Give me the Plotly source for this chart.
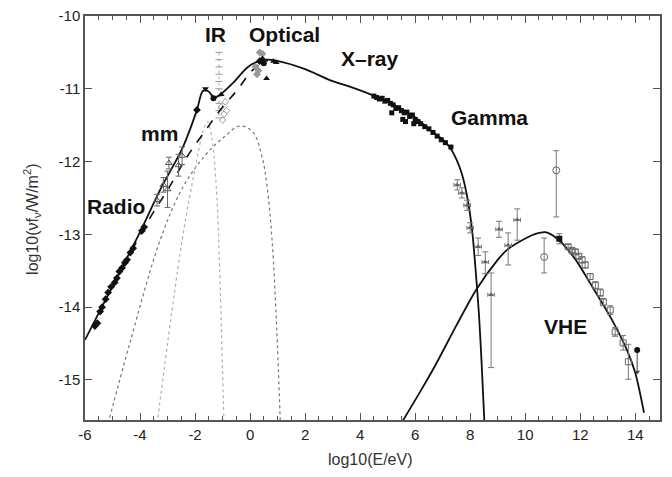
import plotly.graph_objects as go

# ---------------- data ----------------
# synchrotron total model (solid)
sync_x = [-6.0, -5.0, -4.0, -3.27, -2.44, -1.93, -1.72, -1.53, -1.3, -1.05, -0.62, -0.11, 0.25, 0.6, 0.9,
          2.0, 2.9, 3.7, 4.47, 5.0, 5.56, 6.1, 6.55, 7.0, 7.27, 7.5, 7.7, 7.9, 8.07, 8.2, 8.32, 8.42, 8.52]
sync_y = [-14.45, -13.71, -12.97, -12.39, -11.8, -11.29, -11.03, -11.03, -11.12, -11.07, -10.92, -10.71, -10.63, -10.6, -10.61,
          -10.73, -10.88, -10.98, -11.09, -11.18, -11.29, -11.42, -11.57, -11.7, -11.81, -11.97, -12.17, -12.5, -12.94, -13.5, -14.1, -14.8, -15.6]
# synchrotron without IR component (dashed)
dash_x = [-4.3, -3.6, -3.0, -2.3, -1.56, -1.0, -0.47, 0.0, 0.36, 0.65]
dash_y = [-13.22, -12.75, -12.39, -11.94, -11.54, -11.25, -11.02, -10.78, -10.66, -10.61]
# broad dotted component
broad_x = [-5.16, -4.36, -3.27, -2.44, -1.6, -1.0, -0.36, 0.11, 0.44, 0.62, 0.8, 0.97, 1.1]
broad_y = [-15.6, -14.48, -13.08, -12.35, -11.9, -11.68, -11.51, -11.6, -11.94, -12.35, -13.08, -14.3, -15.6]
# narrow gray dotted (IR) component
ir_x = [-3.38, -2.47, -2.0, -1.72, -1.55, -1.38, -1.22, -1.14, -0.95]
ir_y = [-15.6, -13.08, -12.1, -11.6, -11.45, -11.7, -12.4, -13.08, -15.6]
# inverse Compton model (solid)
ic_x = [5.49, 6.2, 6.76, 7.5, 8.22, 9.0, 9.35, 10.04, 10.4, 10.73, 11.2, 11.8, 12.36, 13.09, 13.7, 14.0, 14.32]
ic_y = [-15.6, -15.15, -14.78, -14.25, -13.76, -13.35, -13.21, -13.05, -12.99, -12.97, -13.07, -13.33, -13.67, -14.13, -14.59, -14.9, -15.45]

# radio points
radio_x = [-5.64, -5.55, -5.45, -5.38, -5.25, -5.16, -5.05, -4.92, -4.84, -4.75, -4.65, -4.55, -4.47, -4.35, -4.25, -3.93, -3.85]
radio_y = [-14.26, -14.22, -14.06, -14.0, -13.89, -13.8, -13.72, -13.66, -13.6, -13.51, -13.46, -13.39, -13.35, -13.25, -13.19, -12.95, -12.9]
# mm points
mm_x = [-3.38, -3.15, -3.0, -2.95, -2.6, -2.47]
mm_y = [-12.53, -12.32, -12.38, -12.02, -12.05, -11.92]
mm_err = [0.08, 0.1, 0.25, 0.08, 0.15, 0.12]
# IR points (black)
irp_x = [-1.93, -1.62, -1.33, -1.05]
irp_y = [-11.29, -11.0, -11.13, -11.08]
irp_sym = ["diamond", "triangle-down", "circle", "triangle-up"]
# IR band and ISO points (gray)
band_x = [-1.13, -1.13, -1.13, -1.13, -1.13, -1.13, -1.13, -1.13, -1.13, -1.13]
band_y = [-10.5, -10.6, -10.7, -10.8, -10.9, -11.0, -11.1, -11.2, -11.3, -11.4]
iso_x = [-1.05, -0.95, -0.85, -1.0, -0.9]
iso_y = [-11.25, -11.35, -11.3, -11.43, -11.18]
# optical points
opt_x = [0.35, 0.45, 0.5, 0.85, 0.95, 0.6]
opt_y = [-10.62, -10.6, -10.65, -10.62, -10.64, -10.86]
opt_sym = ["diamond", "diamond", "circle", "triangle-up", "triangle-up", "triangle-up"]
optg_x = [0.35, 0.45, 0.3, 0.25, 0.2]
optg_y = [-10.5, -10.52, -10.75, -10.8, -10.7]
# X-ray points
xr_x = [4.5, 4.6, 4.7, 4.8, 4.9, 5.0, 5.1, 5.2, 5.3, 5.4, 5.5, 5.6, 5.7, 5.8, 5.9, 6.0, 6.1, 6.2, 6.35, 6.5, 6.65, 6.8, 6.95, 7.1, 7.3, 5.15, 5.55, 5.65, 5.95]
xr_y = [-11.1, -11.12, -11.14, -11.13, -11.17, -11.16, -11.2, -11.22, -11.27, -11.26, -11.3, -11.33, -11.32, -11.38, -11.36, -11.42, -11.45, -11.48, -11.52, -11.55, -11.6, -11.65, -11.7, -11.74, -11.8, -11.33, -11.42, -11.45, -11.48]
# gamma (EGRET) points
gam_x = [7.53, 7.7, 7.89, 8.0, 8.29, 8.55, 8.76, 9.05, 9.38, 9.71]
gam_y = [-12.32, -12.43, -12.6, -12.91, -13.17, -13.38, -13.83, -12.93, -13.15, -12.8]
gam_ep = [0.07, 0.07, 0.07, 0.07, 0.12, 0.14, 0.3, 0.11, 0.17, 0.15]
gam_em = [0.07, 0.07, 0.07, 0.07, 0.12, 0.16, 1.0, 0.11, 0.27, 0.28]
# open circles
oc_x = [10.69, 11.13]
oc_y = [-13.31, -12.12]
oc_ep = [0.26, 0.27]
oc_em = [0.22, 0.64]
# VHE points
vf_x = [11.24]
vf_y = [-13.06]
vhe_x = [11.56, 11.7, 11.82, 11.95, 12.07, 12.18, 12.36, 12.55, 12.73, 12.84, 13.09, 13.27, 13.56, 13.75]
vhe_y = [-13.17, -13.22, -13.24, -13.3, -13.35, -13.42, -13.58, -13.7, -13.8, -13.93, -14.04, -14.34, -14.49, -14.75]
vhe_err = [0.03, 0.03, 0.03, 0.03, 0.04, 0.04, 0.04, 0.05, 0.05, 0.05, 0.06, 0.06, 0.1, 0.24]
ul_x = [14.07]
ul_y = [-14.59]
ul_len = [0.3]

labels = ["Radio", "mm", "IR", "Optical", "X\u2013ray", "Gamma", "VHE"]
label_x = [-4.87, -3.31, -1.24, 1.24, 4.36, 8.69, 11.45]
label_y = [-12.62, -11.61, -10.26, -10.25, -10.59, -11.39, -14.27]

x_ticks = [-6, -4, -2, 0, 2, 4, 6, 8, 10, 12, 14]
y_ticks = [-10, -11, -12, -13, -14, -15]

# ---------------- figure ----------------
fig = go.Figure()
BLACK = "#111111"

fig.add_trace(go.Scatter(x=broad_x, y=broad_y, mode="lines", line=dict(color="#777777", width=1.2, dash="dot", shape="spline")))
fig.add_trace(go.Scatter(x=ir_x, y=ir_y, mode="lines", line=dict(color="#b0b0b0", width=1.2, dash="dot", shape="spline")))
fig.add_trace(go.Scatter(x=band_x, y=band_y, mode="lines+markers", line=dict(color="#aaaaaa", width=1, dash="dot"),
                         marker=dict(symbol="line-ew-open", size=5, color="#999999", line=dict(width=1, color="#999999"))))
fig.add_trace(go.Scatter(x=iso_x, y=iso_y, mode="markers", marker=dict(symbol="diamond-open", size=5, color="#999999")))
fig.add_trace(go.Scatter(x=dash_x, y=dash_y, mode="lines", line=dict(color=BLACK, width=1.6, dash="dash", shape="spline")))
fig.add_trace(go.Scatter(x=sync_x, y=sync_y, mode="lines", line=dict(color=BLACK, width=1.8, shape="spline", smoothing=0.8)))
fig.add_trace(go.Scatter(x=ic_x, y=ic_y, mode="lines", line=dict(color=BLACK, width=1.8, shape="spline", smoothing=0.8)))

fig.add_trace(go.Scatter(x=radio_x, y=radio_y, mode="markers", marker=dict(symbol="diamond", size=6, color=BLACK)))
fig.add_trace(go.Scatter(x=mm_x, y=mm_y, mode="markers", marker=dict(symbol="triangle-up-open", size=6, color="#555555"),
                         error_y=dict(type="data", array=mm_err, color="#666666", thickness=1, width=3)))
fig.add_trace(go.Scatter(x=irp_x, y=irp_y, mode="markers", marker=dict(symbol=irp_sym, size=6, color=BLACK)))
fig.add_trace(go.Scatter(x=optg_x, y=optg_y, mode="markers", marker=dict(symbol="diamond", size=6, color="#999999")))
fig.add_trace(go.Scatter(x=opt_x, y=opt_y, mode="markers", marker=dict(symbol=opt_sym, size=6, color=BLACK)))
fig.add_trace(go.Scatter(x=xr_x, y=xr_y, mode="markers", marker=dict(symbol="square", size=5, color=BLACK)))
fig.add_trace(go.Scatter(x=gam_x, y=gam_y, mode="markers", marker=dict(symbol="triangle-up", size=5, color="#666666"),
                         error_x=dict(type="constant", value=0.12, color="#777777", thickness=1, width=2),
                         error_y=dict(type="data", array=gam_ep, arrayminus=gam_em, color="#777777", thickness=1, width=3)))
fig.add_trace(go.Scatter(x=oc_x, y=oc_y, mode="markers", marker=dict(symbol="circle-open", size=7, color="#666666"),
                         error_y=dict(type="data", array=oc_ep, arrayminus=oc_em, color="#777777", thickness=1, width=3)))
fig.add_trace(go.Scatter(x=vhe_x, y=vhe_y, mode="markers", marker=dict(symbol="square-open", size=6, color="#666666"),
                         error_y=dict(type="data", array=vhe_err, color="#777777", thickness=1, width=3)))
fig.add_trace(go.Scatter(x=vf_x, y=vf_y, mode="markers", marker=dict(symbol="square", size=6, color=BLACK),
                         error_y=dict(type="constant", value=0.07, color="#777777", thickness=1, width=3)))
# upper limit: point with a downward arrow
fig.add_trace(go.Scatter(x=ul_x, y=ul_y, mode="markers", marker=dict(symbol="circle", size=6, color=BLACK),
                         error_y=dict(type="data", array=[0] * len(ul_x), arrayminus=ul_len, color="#444444", thickness=1, width=0)))
fig.add_trace(go.Scatter(x=ul_x, y=[u - l for u, l in zip(ul_y, ul_len)], mode="markers",
                         marker=dict(symbol="triangle-down", size=5, color="#444444")))

for t, lx, ly in zip(labels, label_x, label_y):
    fig.add_annotation(x=lx, y=ly, xref="x", yref="y", text="<b>" + t + "</b>", showarrow=False,
                       font=dict(family="Liberation Sans, Arial", size=21, color=BLACK))

fig.add_annotation(xref="paper", yref="paper", x=-0.115, y=0.4975, textangle=-90, showarrow=False,
                   text="log10(\u03bdf<sub>\u03bd</sub>/W/m<sup>2</sup>)",
                   font=dict(family="Liberation Sans, Arial", size=16, color="#333333"))
fig.add_annotation(xref="paper", yref="paper", x=0.496, y=-0.072, yanchor="top", showarrow=False,
                   text="log10(E/eV)", font=dict(family="Liberation Sans, Arial", size=16, color="#333333"))

fig.update_xaxes(range=[-6, 14.9], tickvals=x_ticks, ticktext=[str(v) for v in x_ticks], automargin=False,
                 ticks="inside", ticklen=7, tickcolor="#555555", showgrid=False, zeroline=False,
                 showline=True, linecolor="#555555", linewidth=1.5, mirror="allticks",
                 ticklabeloverflow="allow",
                 minor=dict(dtick=0.5, tick0=0, ticks="inside", ticklen=4, tickcolor="#555555"),
                 tickfont=dict(family="Liberation Sans, Arial", size=15, color="#222222"))
fig.update_yaxes(range=[-15.55, -10], tickvals=y_ticks, ticktext=[str(v) for v in y_ticks], automargin=False,
                 ticks="inside", ticklen=7, tickcolor="#555555", showgrid=False, zeroline=False,
                 showline=True, linecolor="#555555", linewidth=1.5, mirror="allticks",
                 ticklabeloverflow="allow",
                 tickfont=dict(family="Liberation Sans, Arial", size=15, color="#222222"))

# the page body adds an 8px offset; size and margins compensate so the plot area sits at x 85-660, y 16-420
fig.update_layout(width=664, height=469, margin=dict(l=77, r=12, t=8, b=57),
                  paper_bgcolor="white", plot_bgcolor="white", showlegend=False)

fig.write_html("out.html")
